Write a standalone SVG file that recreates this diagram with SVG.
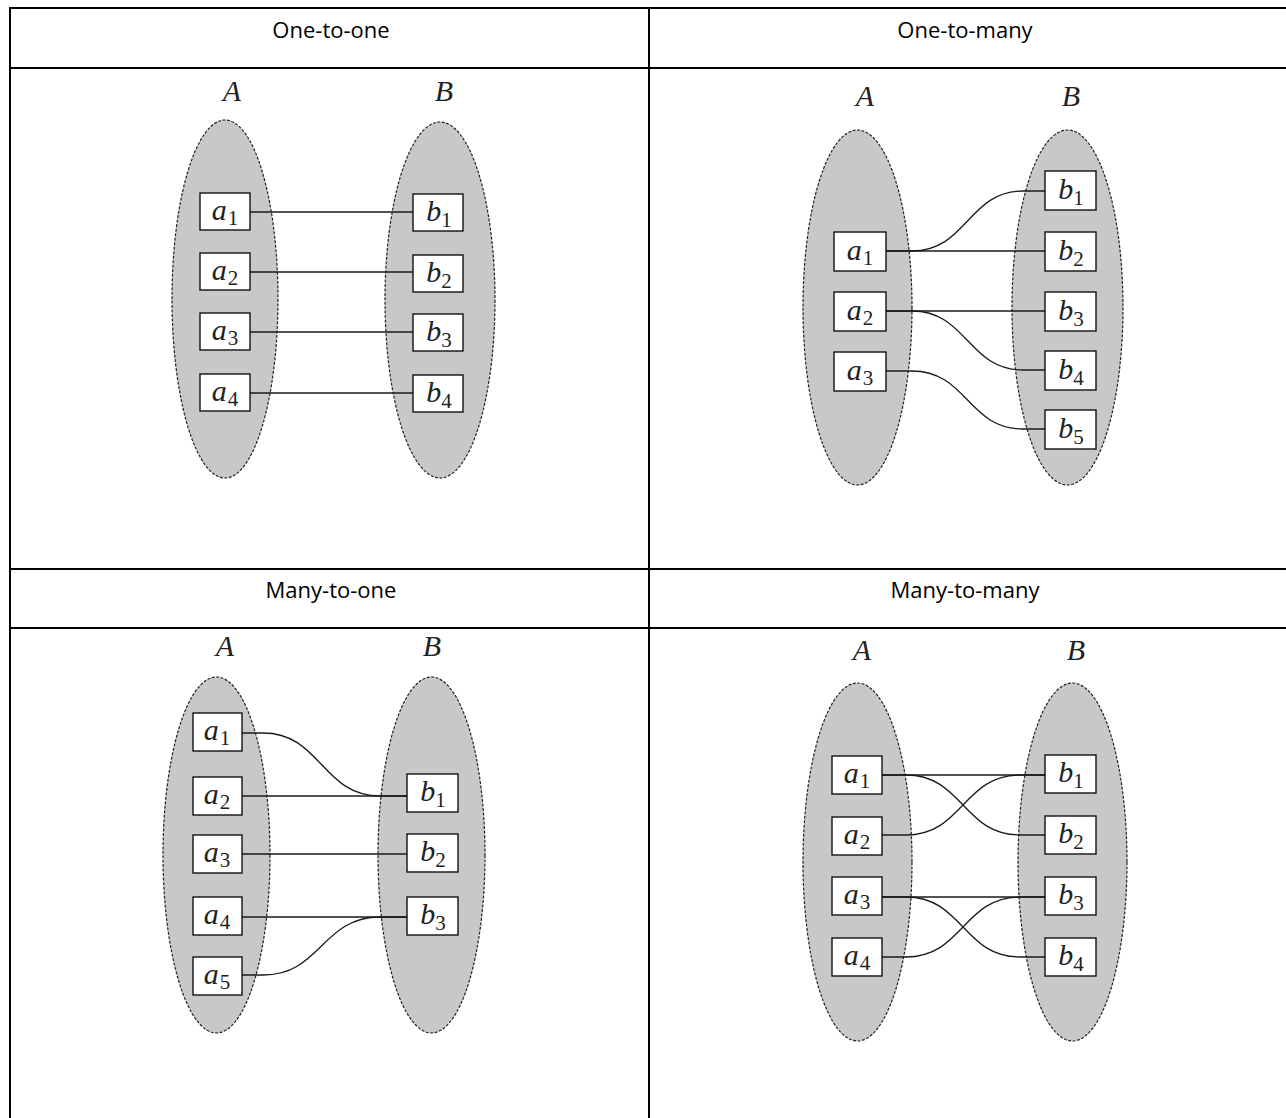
<svg xmlns="http://www.w3.org/2000/svg" width="1286" height="1118" viewBox="0 0 1286 1118">
<style>
.grid{stroke:#000;stroke-width:2;fill:none}
.hdr{font-family:"Open Sans","Liberation Sans",sans-serif;font-size:22px;fill:#000;text-anchor:middle}
.set{fill:#c8c8c8;stroke:#222;stroke-width:1.2;stroke-dasharray:3 1.5}
.setlbl{font-family:"Liberation Serif","DejaVu Serif",serif;font-style:italic;font-size:30px;fill:#222;text-anchor:middle}
.box{fill:#fff;stroke:#111;stroke-width:1.4}
.lbl{font-family:"Liberation Serif","DejaVu Serif",serif;font-style:italic;font-size:30px;fill:#222;text-anchor:middle}
.sub{font-style:normal;font-size:21px}
.edge{fill:none;stroke:#1a1a1a;stroke-width:1.3}
</style>
<rect width="1286" height="1118" fill="#fff"/>
<g id="table">
<line class="grid" x1="9" y1="8" x2="1286" y2="8"/>
<line class="grid" x1="9" y1="68" x2="1286" y2="68"/>
<line class="grid" x1="9" y1="569" x2="1286" y2="569"/>
<line class="grid" x1="9" y1="628" x2="1286" y2="628"/>
<line class="grid" x1="10" y1="7" x2="10" y2="1118"/>
<line class="grid" x1="649" y1="7" x2="649" y2="1118"/>
<text class="hdr" x="331" y="38">One-to-one</text>
<text class="hdr" x="965" y="38">One-to-many</text>
<text class="hdr" x="331" y="598">Many-to-one</text>
<text class="hdr" x="965" y="598">Many-to-many</text>
</g>

<!-- One-to-one -->
<g id="q1-setA"><ellipse class="set" cx="225" cy="299" rx="53" ry="179"/><text class="setlbl" x="232" y="101">A</text></g>
<g id="q1-setB"><ellipse class="set" cx="440" cy="300" rx="55" ry="178"/><text class="setlbl" x="444" y="101">B</text></g>
<g id="q1-connectors">
<path class="edge" d="M250,212 H413"/>
<path class="edge" d="M250,272 H413"/>
<path class="edge" d="M250,332 H413"/>
<path class="edge" d="M250,393 H413"/>
</g>
<g id="q1-a1"><rect class="box" x="200" y="193" width="50" height="37"/><text class="lbl" x="225" y="220">a<tspan class="sub" dx="1" dy="5">1</tspan></text></g>
<g id="q1-a2"><rect class="box" x="200" y="253" width="50" height="37"/><text class="lbl" x="225" y="280">a<tspan class="sub" dx="1" dy="5">2</tspan></text></g>
<g id="q1-a3"><rect class="box" x="200" y="313" width="50" height="37"/><text class="lbl" x="225" y="340">a<tspan class="sub" dx="1" dy="5">3</tspan></text></g>
<g id="q1-a4"><rect class="box" x="200" y="374" width="50" height="37"/><text class="lbl" x="225" y="401">a<tspan class="sub" dx="1" dy="5">4</tspan></text></g>
<g id="q1-b1"><rect class="box" x="413" y="194" width="50" height="37"/><text class="lbl" x="439" y="221">b<tspan class="sub" dx="0" dy="6">1</tspan></text></g>
<g id="q1-b2"><rect class="box" x="413" y="255" width="50" height="37"/><text class="lbl" x="439" y="282">b<tspan class="sub" dx="0" dy="6">2</tspan></text></g>
<g id="q1-b3"><rect class="box" x="413" y="314" width="50" height="37"/><text class="lbl" x="439" y="341">b<tspan class="sub" dx="0" dy="6">3</tspan></text></g>
<g id="q1-b4"><rect class="box" x="413" y="375" width="50" height="37"/><text class="lbl" x="439" y="402">b<tspan class="sub" dx="0" dy="6">4</tspan></text></g>

<!-- One-to-many -->
<g id="q2-setA"><ellipse class="set" cx="857.5" cy="307.5" rx="54.5" ry="177.5"/><text class="setlbl" x="865" y="106">A</text></g>
<g id="q2-setB"><ellipse class="set" cx="1067.5" cy="307.5" rx="55.5" ry="177.5"/><text class="setlbl" x="1071" y="106">B</text></g>
<g id="q2-connectors">
<path class="edge" d="M886,251 H1045"/>
<path class="edge" d="M886,251 H912 C967,251 968,191 1023,191 H1045"/>
<path class="edge" d="M886,311 H1045"/>
<path class="edge" d="M886,311 H912 C967,311 968,370 1023,370 H1045"/>
<path class="edge" d="M886,371 H912 C967,371 968,429 1023,429 H1045"/>
</g>
<g id="q2-a1"><rect class="box" x="834" y="232" width="52" height="39"/><text class="lbl" x="860" y="260">a<tspan class="sub" dx="1" dy="5">1</tspan></text></g>
<g id="q2-a2"><rect class="box" x="834" y="292" width="52" height="39"/><text class="lbl" x="860" y="320">a<tspan class="sub" dx="1" dy="5">2</tspan></text></g>
<g id="q2-a3"><rect class="box" x="834" y="352" width="52" height="39"/><text class="lbl" x="860" y="380">a<tspan class="sub" dx="1" dy="5">3</tspan></text></g>
<g id="q2-b1"><rect class="box" x="1045" y="171" width="51" height="39"/><text class="lbl" x="1071" y="199">b<tspan class="sub" dx="0" dy="6">1</tspan></text></g>
<g id="q2-b2"><rect class="box" x="1045" y="232" width="51" height="39"/><text class="lbl" x="1071" y="260">b<tspan class="sub" dx="0" dy="6">2</tspan></text></g>
<g id="q2-b3"><rect class="box" x="1045" y="292" width="51" height="39"/><text class="lbl" x="1071" y="320">b<tspan class="sub" dx="0" dy="6">3</tspan></text></g>
<g id="q2-b4"><rect class="box" x="1045" y="351" width="51" height="39"/><text class="lbl" x="1071" y="379">b<tspan class="sub" dx="0" dy="6">4</tspan></text></g>
<g id="q2-b5"><rect class="box" x="1045" y="410" width="51" height="39"/><text class="lbl" x="1071" y="438">b<tspan class="sub" dx="0" dy="6">5</tspan></text></g>

<!-- Many-to-one -->
<g id="q3-setA"><ellipse class="set" cx="216.5" cy="855" rx="53.5" ry="178"/><text class="setlbl" x="225" y="656">A</text></g>
<g id="q3-setB"><ellipse class="set" cx="431.5" cy="855" rx="53.5" ry="178"/><text class="setlbl" x="432" y="656">B</text></g>
<g id="q3-connectors">
<path class="edge" d="M242,733 H263 C321,733 322,796 380,796 H407"/>
<path class="edge" d="M242,796 H407"/>
<path class="edge" d="M242,854 H407"/>
<path class="edge" d="M242,917 H407"/>
<path class="edge" d="M242,975 H263 C321,975 322,917 380,917 H407"/>
</g>
<g id="q3-a1"><rect class="box" x="193" y="713" width="49" height="38"/><text class="lbl" x="217" y="740">a<tspan class="sub" dx="1" dy="5">1</tspan></text></g>
<g id="q3-a2"><rect class="box" x="193" y="777" width="49" height="38"/><text class="lbl" x="217" y="804">a<tspan class="sub" dx="1" dy="5">2</tspan></text></g>
<g id="q3-a3"><rect class="box" x="193" y="835" width="49" height="38"/><text class="lbl" x="217" y="862">a<tspan class="sub" dx="1" dy="5">3</tspan></text></g>
<g id="q3-a4"><rect class="box" x="193" y="897" width="49" height="38"/><text class="lbl" x="217" y="924">a<tspan class="sub" dx="1" dy="5">4</tspan></text></g>
<g id="q3-a5"><rect class="box" x="193" y="957" width="49" height="38"/><text class="lbl" x="217" y="984">a<tspan class="sub" dx="1" dy="5">5</tspan></text></g>
<g id="q3-b1"><rect class="box" x="407" y="774" width="51" height="38"/><text class="lbl" x="433" y="801">b<tspan class="sub" dx="0" dy="6">1</tspan></text></g>
<g id="q3-b2"><rect class="box" x="407" y="834" width="51" height="38"/><text class="lbl" x="433" y="861">b<tspan class="sub" dx="0" dy="6">2</tspan></text></g>
<g id="q3-b3"><rect class="box" x="407" y="897" width="51" height="38"/><text class="lbl" x="433" y="924">b<tspan class="sub" dx="0" dy="6">3</tspan></text></g>

<!-- Many-to-many -->
<g id="q4-setA"><ellipse class="set" cx="857.5" cy="862" rx="54.5" ry="179"/><text class="setlbl" x="862" y="660">A</text></g>
<g id="q4-setB"><ellipse class="set" cx="1072.5" cy="862" rx="54.5" ry="179"/><text class="setlbl" x="1076" y="660">B</text></g>
<g id="q4-connectors">
<path class="edge" d="M882,775 H1045"/>
<path class="edge" d="M882,775 H906 C963,775 963,835 1020,835 H1045"/>
<path class="edge" d="M882,835 H906 C963,835 963,775 1020,775 H1045"/>
<path class="edge" d="M882,897 H1045"/>
<path class="edge" d="M882,897 H906 C963,897 963,957 1020,957 H1045"/>
<path class="edge" d="M882,957 H906 C963,957 963,897 1020,897 H1045"/>
</g>
<g id="q4-a1"><rect class="box" x="832" y="756" width="50" height="38"/><text class="lbl" x="857" y="783">a<tspan class="sub" dx="1" dy="5">1</tspan></text></g>
<g id="q4-a2"><rect class="box" x="832" y="817" width="50" height="38"/><text class="lbl" x="857" y="844">a<tspan class="sub" dx="1" dy="5">2</tspan></text></g>
<g id="q4-a3"><rect class="box" x="832" y="877" width="50" height="38"/><text class="lbl" x="857" y="904">a<tspan class="sub" dx="1" dy="5">3</tspan></text></g>
<g id="q4-a4"><rect class="box" x="832" y="938" width="50" height="38"/><text class="lbl" x="857" y="965">a<tspan class="sub" dx="1" dy="5">4</tspan></text></g>
<g id="q4-b1"><rect class="box" x="1045" y="755" width="51" height="38"/><text class="lbl" x="1071" y="782">b<tspan class="sub" dx="0" dy="6">1</tspan></text></g>
<g id="q4-b2"><rect class="box" x="1045" y="816" width="51" height="38"/><text class="lbl" x="1071" y="843">b<tspan class="sub" dx="0" dy="6">2</tspan></text></g>
<g id="q4-b3"><rect class="box" x="1045" y="877" width="51" height="38"/><text class="lbl" x="1071" y="904">b<tspan class="sub" dx="0" dy="6">3</tspan></text></g>
<g id="q4-b4"><rect class="box" x="1045" y="938" width="51" height="38"/><text class="lbl" x="1071" y="965">b<tspan class="sub" dx="0" dy="6">4</tspan></text></g>
</svg>
